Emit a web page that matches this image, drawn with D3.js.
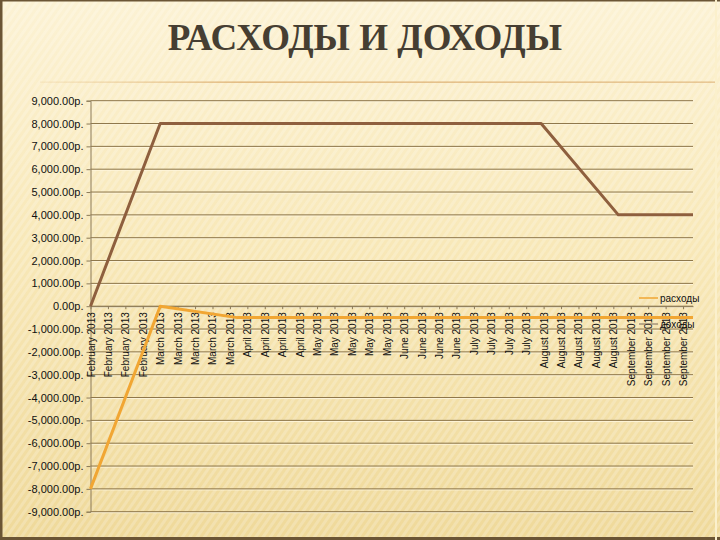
<!DOCTYPE html>
<html>
<head>
<meta charset="utf-8">
<script src="https://cdn.jsdelivr.net/npm/d3@7"></script>
<style>
  body { margin: 0; background: #f5e6b4; }
  svg { display: block; }
</style>
</head>
<body>
<div id="chart"></div>
<script>
// monthly points, drawn on a date axis with weekly labels
const months = ["2013-02-01", "2013-03-01", "2013-04-01", "2013-05-01", "2013-06-01",
                "2013-07-01", "2013-08-01", "2013-09-01", "2013-10-01"];
const rashody = [-8000, 0, -500, -500, -500, -500, -500, -500, -500];
const dohody  = [0, 8000, 8000, 8000, 8000, 8000, 8000, 4000, 4000];
const seriesNames = ["расходы", "доходы"];
const yTicks = d3.range(-9000, 9001, 1000);

const width = 720;
const height = 540;
const margin = { top: 100.7, right: 27, bottom: 28.3, left: 90.5 };

const parse = d3.timeParse("%Y-%m-%d");
const dates = months.map(parse);

const svg = d3.select("#chart")
  .append("svg")
  .attr("width", width)
  .attr("height", height);

const defs = svg.append("defs");

const bg = defs.append("linearGradient")
  .attr("id", "bg")
  .attr("x1", 0).attr("y1", 0).attr("x2", 0).attr("y2", 1);
bg.append("stop").attr("offset", "0%").attr("stop-color", "#fcf2d4");
bg.append("stop").attr("offset", "45%").attr("stop-color", "#f8e8b8");
bg.append("stop").attr("offset", "100%").attr("stop-color", "#efd99a");

const stripes = defs.append("pattern")
  .attr("id", "stripes")
  .attr("width", 6).attr("height", 6)
  .attr("patternUnits", "userSpaceOnUse")
  .attr("patternTransform", "rotate(35)");
stripes.append("rect")
  .attr("width", 3).attr("height", 6)
  .attr("fill", "#ffffff").attr("opacity", 0.2);

const rule = defs.append("linearGradient")
  .attr("id", "rule")
  .attr("x1", 0).attr("y1", 0).attr("x2", 1).attr("y2", 0);
rule.append("stop").attr("offset", "0%").attr("stop-color", "#e2b878").attr("stop-opacity", 0.2);
rule.append("stop").attr("offset", "30%").attr("stop-color", "#d9a867").attr("stop-opacity", 0.9);
rule.append("stop").attr("offset", "100%").attr("stop-color", "#d9a867").attr("stop-opacity", 0.7);

// slide background
svg.append("rect").attr("width", width).attr("height", height).attr("fill", "url(#bg)");
svg.append("rect").attr("width", width).attr("height", height).attr("fill", "url(#stripes)");
svg.append("rect").attr("x", 0).attr("y", 0).attr("width", 2.5).attr("height", height).attr("fill", "#6b5535");
svg.append("rect").attr("x", 0).attr("y", 0).attr("width", width).attr("height", 1.5).attr("fill", "#6b5535");
svg.append("rect").attr("x", 0).attr("y", height - 3).attr("width", width).attr("height", 3).attr("fill", "#6b5535");
svg.append("rect").attr("x", width - 5).attr("y", 0).attr("width", 2).attr("height", height).attr("fill", "#fbf0cc");

svg.append("text")
  .attr("x", 365)
  .attr("y", 50)
  .attr("text-anchor", "middle")
  .attr("font-family", "Liberation Serif, serif")
  .attr("font-weight", "bold")
  .attr("font-size", 37)
  .attr("fill", "#463e32")
  .text("РАСХОДЫ И ДОХОДЫ");

svg.append("rect")
  .attr("x", 40).attr("y", 81.5)
  .attr("width", 675).attr("height", 1.3)
  .attr("fill", "url(#rule)");

const xScale = d3.scaleTime()
  .domain([dates[0], dates[dates.length - 1]])
  .range([margin.left, width - margin.right]);

const yScale = d3.scaleLinear()
  .domain([-9000, 9000])
  .range([height - margin.bottom, margin.top]);

// gridlines
svg.append("g")
  .selectAll("line")
  .data(yTicks)
  .enter()
  .append("line")
  .attr("x1", margin.left)
  .attr("x2", width - margin.right)
  .attr("y1", d => yScale(d) + 1)
  .attr("y2", d => yScale(d) + 1)
  .attr("stroke", "#fff6dc")
  .attr("stroke-width", 1);

svg.append("g")
  .selectAll("line")
  .data(yTicks)
  .enter()
  .append("line")
  .attr("x1", margin.left)
  .attr("x2", width - margin.right)
  .attr("y1", d => yScale(d))
  .attr("y2", d => yScale(d))
  .attr("stroke", "#8c7448")
  .attr("stroke-width", 1);

const yAxis = d3.axisLeft(yScale)
  .tickValues(yTicks)
  .tickSize(4)
  .tickPadding(3)
  .tickFormat(d => d3.format(",.2f")(d).replace("−", "-") + "р.");

const yAxisGroup = svg.append("g")
  .attr("transform", `translate(${margin.left}, 0)`)
  .call(yAxis);
yAxisGroup.selectAll("path, line").attr("stroke", "#8c7a58");
yAxisGroup.selectAll("text")
  .attr("font-family", "Liberation Sans, Arial, sans-serif")
  .attr("font-size", 11)
  .attr("fill", "#111");

// weekly labels from Feb 1
const weeks = d3.timeDay.range(dates[0], dates[dates.length - 1], 7);

const xAxis = d3.axisBottom(xScale)
  .tickValues(weeks)
  .tickSize(3)
  .tickSizeOuter(0)
  .tickFormat(d3.timeFormat("%B %Y"));

const xAxisGroup = svg.append("g")
  .attr("transform", `translate(0, ${yScale(0)})`)
  .call(xAxis);
xAxisGroup.selectAll("path, line").attr("stroke", "#8c7a58");
xAxisGroup.selectAll("text")
  .attr("transform", "rotate(-90)")
  .attr("text-anchor", "end")
  .attr("x", -6)
  .attr("y", 0)
  .attr("dy", "0.35em")
  .attr("font-family", "Liberation Sans, Arial, sans-serif")
  .attr("font-size", 10)
  .attr("fill", "#111");

const lineGenerator = d3.line()
  .x((d, i) => xScale(dates[i]))
  .y(d => yScale(d));

svg.append("path")
  .datum(dohody)
  .attr("fill", "none")
  .attr("stroke", "#8e5f3e")
  .attr("stroke-width", 3)
  .attr("stroke-linejoin", "round")
  .attr("d", lineGenerator);

svg.append("path")
  .datum(rashody)
  .attr("fill", "none")
  .attr("stroke", "#f1a633")
  .attr("stroke-width", 3)
  .attr("stroke-linejoin", "round")
  .attr("d", lineGenerator);

// legend
const legendColors = ["#f1a633", "#7a6a58"];
const legend = svg.append("g");
seriesNames.forEach((name, i) => {
  const y = 298 + i * 26;
  legend.append("line")
    .attr("x1", 639).attr("x2", 658)
    .attr("y1", y).attr("y2", y)
    .attr("stroke", legendColors[i])
    .attr("stroke-width", i === 0 ? 1.5 : 1);
  legend.append("text")
    .attr("x", 660)
    .attr("y", y + 3.5)
    .attr("font-family", "Liberation Sans, Arial, sans-serif")
    .attr("font-size", 10)
    .attr("fill", "#111")
    .text(name);
});
</script>
</body>
</html>
